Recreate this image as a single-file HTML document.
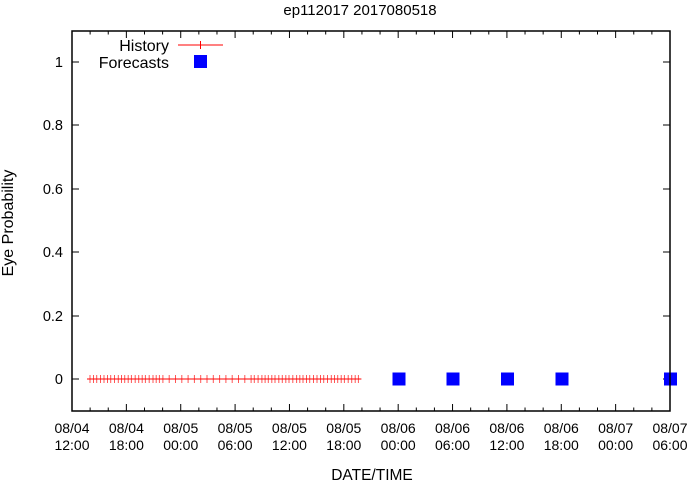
<!DOCTYPE html>
<html><head><meta charset="utf-8"><style>
html,body{margin:0;padding:0;background:#fff;}
svg{display:block;font-family:"Liberation Sans",sans-serif;font-size:14px;}
</style></head><body>
<svg id="s" width="691" height="482" viewBox="0 0 691 482" xmlns="http://www.w3.org/2000/svg">
<rect width="691" height="482" fill="#fff"/>
<text x="360" y="15" text-anchor="middle" font-size="15">ep112017 2017080518</text>
<g id="ticks" stroke="#000" stroke-width="1"></g>
<g id="hist"></g>
<g fill="#00f">
<rect x="392.5" y="372.5" width="13" height="13"/>
<rect x="446.5" y="372.5" width="13" height="13"/>
<rect x="501" y="372.5" width="13" height="13"/>
<rect x="555.5" y="372.5" width="13" height="13"/>
<rect x="664" y="372.5" width="13" height="13"/>
<rect x="194" y="55" width="13" height="13"/>
</g>
<rect x="72" y="31" width="598" height="380" fill="none" stroke="#000" stroke-width="1.5"/>
<g text-anchor="end" font-size="14.5">
<text x="63" y="384">0</text>
<text x="63" y="321">0.2</text>
<text x="63" y="257">0.4</text>
<text x="63" y="194">0.6</text>
<text x="63" y="130">0.8</text>
<text x="63" y="67">1</text>
</g>
<g text-anchor="middle" font-size="14" id="xl"></g>
<text x="372" y="480" text-anchor="middle" font-size="15.5">DATE/TIME</text>
<text transform="translate(13,223) rotate(-90)" text-anchor="middle" font-size="16">Eye Probability</text>
<text x="169" y="51" text-anchor="end" font-size="16">History</text>
<text x="169" y="68" text-anchor="end" font-size="16">Forecasts</text>
<line x1="178" y1="45" x2="223" y2="45" stroke="#f00" stroke-width="1"/>
<path d="M196.5 45h8M200.5 41v8" stroke="#f00" stroke-width="1"/>
</svg>
<script>
var ns="http://www.w3.org/2000/svg",t=document.getElementById('ticks'),h=document.getElementById('hist'),xl=document.getElementById('xl');
function L(p,a,b,c,d,col){var l=document.createElementNS(ns,'line');l.setAttribute('x1',a);l.setAttribute('y1',b);l.setAttribute('x2',c);l.setAttribute('y2',d);if(col)l.setAttribute('stroke',col);p.appendChild(l);}
var dx=598/33;
for(var i=0;i<=33;i++){var x=72+i*dx,len=(i%3==0)?7:3.5;L(t,x,411,x,411-len);L(t,x,31,x,31+len);}
var ys=[379,316,252,189,125,62];
ys.forEach(function(y){L(t,72,y,79,y);L(t,670,y,663,y);});
var labs=[["08/04","12:00"],["08/04","18:00"],["08/05","00:00"],["08/05","06:00"],["08/05","12:00"],["08/05","18:00"],["08/06","00:00"],["08/06","06:00"],["08/06","12:00"],["08/06","18:00"],["08/07","00:00"],["08/07","06:00"]];
labs.forEach(function(l,i){var x=72+i*3*dx;[l[0],l[1]].forEach(function(s,j){var e=document.createElementNS(ns,'text');e.setAttribute('x',x);e.setAttribute('y',433+j*17);e.textContent=s;xl.appendChild(e);});});
L(h,90,379,360,379,'#f00');
var x=90;var seed=3;while(x<=360.5){L(h,x,375,x,383,'#f55');L(h,x-3,379,x+3,379,'#f00');seed=(seed*7+5)%11;var g=(x>160&&x<250)?6.3:3.2+(seed%3)*0.3;x+=g;}
</script>
</body></html>
